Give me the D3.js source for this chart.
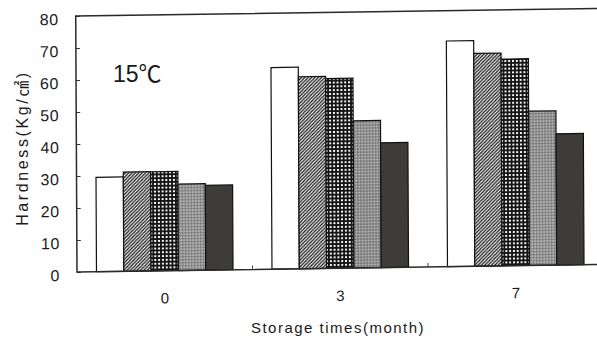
<!DOCTYPE html>
<html>
<head>
<meta charset="utf-8">
<script src="https://cdn.jsdelivr.net/npm/d3@7"></script>
<style>
  html, body { margin: 0; padding: 0; background: #fff; }
  svg { display: block; }
  text { font-family: "Liberation Sans", Arial, "Noto Sans CJK KR", sans-serif; fill: #1a1a1a; }
</style>
</head>
<body>
<div id="chart"></div>
<script>
// Storage time categories (months)
const categories = ["0", "3", "7"];
// Hardness values for each treatment, one array per treatment, by storage month
const seriesKeys = ["open", "hatched", "grid", "dotted", "solid"];
const openValues    = [29.5, 63.0, 70.5];
const hatchedValues = [31.0, 60.0, 66.5];
const gridValues    = [31.0, 59.3, 64.6];
const dottedValues  = [27.0, 46.0, 48.2];
const solidValues   = [26.5, 39.0, 41.0];
const yTicks = [0, 10, 20, 30, 40, 50, 60, 70, 80];

const valueTable = {
  open: openValues, hatched: hatchedValues, grid: gridValues,
  dotted: dottedValues, solid: solidValues
};

const W = 597, H = 343;
const plotW = 526.5, plotH = 256;

const svg = d3.select("#chart").append("svg")
  .attr("width", W).attr("height", H);

// fill patterns for the five treatments
const defs = svg.append("defs");
const hatch = defs.append("pattern").attr("id", "p-hatched")
  .attr("patternUnits", "userSpaceOnUse").attr("width", 3.4).attr("height", 3.4);
hatch.append("rect").attr("width", 3.4).attr("height", 3.4).attr("fill", "#fff");
hatch.append("path")
  .attr("d", "M-0.85,0.85 L0.85,-0.85 M0,3.4 L3.4,0 M2.55,4.25 L4.25,2.55")
  .attr("stroke", "#151515").attr("stroke-width", 1.3);

const grid = defs.append("pattern").attr("id", "p-grid")
  .attr("patternUnits", "userSpaceOnUse").attr("width", 3.8).attr("height", 3.8);
grid.append("rect").attr("width", 3.8).attr("height", 3.8).attr("fill", "#161616");
grid.append("rect").attr("x", 0.95).attr("y", 0.95).attr("width", 1.9).attr("height", 1.9).attr("fill", "#fff");

const dots = defs.append("pattern").attr("id", "p-dotted")
  .attr("patternUnits", "userSpaceOnUse").attr("width", 3).attr("height", 3);
dots.append("rect").attr("width", 3).attr("height", 3).attr("fill", "#8e8e8e");
dots.append("circle").attr("cx", 0.75).attr("cy", 0.75).attr("r", 0.7).attr("fill", "#c6c6c6");
dots.append("circle").attr("cx", 2.25).attr("cy", 2.25).attr("r", 0.6).attr("fill", "#5e5e5e");

const fills = {
  open: "#ffffff",
  hatched: "url(#p-hatched)",
  grid: "url(#p-grid)",
  dotted: "url(#p-dotted)",
  solid: "#3e3c39"
};

// the printed figure sits slightly tilted on the page
const frame = svg.append("g")
  .attr("transform", "matrix(1,-0.0145,0.005,1,77,272)")
  .append("g")
  .attr("transform", `translate(0,${-plotH})`);

const x = d3.scaleBand().domain(categories).range([0, plotW])
  .paddingInner(0.222).paddingOuter(0.111);
const xInner = d3.scaleBand().domain(seriesKeys).range([0, x.bandwidth()]).padding(0);
const y = d3.scaleLinear().domain([0, 80]).range([plotH, 0]);

// bars
const groups = frame.append("g").selectAll("g")
  .data(categories).join("g")
  .attr("transform", d => `translate(${x(d)},0)`);

groups.selectAll("rect")
  .data((c, i) => seriesKeys.map(k => ({ key: k, value: valueTable[k][i] })))
  .join("rect")
  .attr("x", d => xInner(d.key))
  .attr("width", xInner.bandwidth())
  .attr("y", d => y(d.value))
  .attr("height", d => y(0) - y(d.value))
  .attr("fill", d => fills[d.key])
  .attr("stroke", "#111")
  .attr("stroke-width", 1.2);

// y axis with short inward ticks
const yAxis = frame.append("g")
  .call(d3.axisLeft(y).tickValues(yTicks).tickSizeInner(-4).tickSizeOuter(0).tickPadding(17));
yAxis.select(".domain").remove();
yAxis.selectAll(".tick line").attr("stroke", "#333").attr("stroke-width", 1);
yAxis.selectAll("text")
  .attr("font-size", 16).attr("dy", "0.52em").attr("letter-spacing", "0.6px")
  .style("font-family", "'Liberation Sans', Arial, sans-serif").attr("fill", "#1a1a1a");

// x axis: category labels
const xAxis = frame.append("g")
  .attr("transform", `translate(0,${plotH})`)
  .call(d3.axisBottom(x).tickSize(0).tickPadding(22));
xAxis.select(".domain").remove();
xAxis.selectAll("text")
  .attr("font-size", 15)
  .style("font-family", "'Liberation Sans', Arial, sans-serif").attr("fill", "#1a1a1a");

// short inward ticks at the boundaries between storage groups
const step = x.step();
frame.append("g").selectAll("line")
  .data(categories.slice(1)).join("line")
  .attr("x1", d => x(d) - step * x.paddingInner() / 2)
  .attr("x2", d => x(d) - step * x.paddingInner() / 2)
  .attr("y1", plotH).attr("y2", plotH - 4)
  .attr("stroke", "#444").attr("stroke-width", 1);

// plot frame
frame.append("rect")
  .attr("x", 0).attr("y", 0).attr("width", plotW).attr("height", plotH)
  .attr("fill", "none").attr("stroke", "#2a2a2a").attr("stroke-width", 1.5);

// titles
svg.append("text")
  .attr("x", 338).attr("y", 333)
  .attr("text-anchor", "middle")
  .attr("font-size", 15).attr("letter-spacing", "1.5px")
  .text("Storage times(month)");

svg.append("text")
  .attr("transform", "translate(28,148) rotate(-90)")
  .attr("text-anchor", "middle")
  .attr("font-size", 16).attr("letter-spacing", "2.6px")
  .text("Hardness(Kg/㎠)");

svg.append("text")
  .attr("x", 113).attr("y", 82)
  .attr("font-size", 23)
  .text("15℃");
</script>
</body>
</html>
